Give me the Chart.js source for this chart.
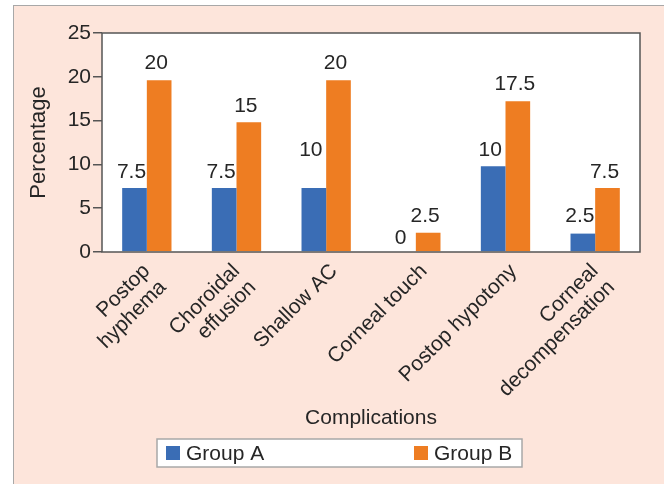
<!DOCTYPE html>
<html>
<head>
<meta charset="utf-8">
<script src="https://cdn.jsdelivr.net/npm/chart.js@4.4.1/dist/chart.umd.min.js"></script>
<style>
  html, body { margin: 0; padding: 0; background: #ffffff; }
  #panel {
    position: absolute; left: 13px; top: 5px; width: 660px; height: 490px;
    background: #fde5db; border-left: 1.5px solid #a8a8a8; border-top: 1.5px solid #a8a8a8;
  }
  #wrap { position: absolute; left: 0; top: 0; width: 664px; height: 484px; }
</style>
</head>
<body>
<div id="panel"></div>
<div id="wrap"><canvas id="myChart" width="664" height="484"></canvas></div>
<script>
// datos del grafico
const categories = [
  ["Postop", "hyphema"],
  ["Choroidal", "effusion"],
  "Shallow AC",
  "Corneal touch",
  "Postop hypotony",
  ["Corneal", "decompensation"],
];
// alturas de barra tal como se ven en la figura
const groupA = [7.3, 7.3, 7.3, 0, 9.8, 2.1];
const groupB = [19.6, 14.8, 19.6, 2.2, 17.2, 7.3];
// valores impresos encima de cada barra
const labelsA = [7.5, 7.5, 10, 0, 10, 2.5];
const labelsB = [20, 15, 20, 2.5, 17.5, 7.5];
const yTicks = [0, 5, 10, 15, 20, 25];

const textColor = "#262626";
const axisColor = "#555555";
const font = "'Liberation Sans', Arial, sans-serif";

// fondo blanco del area del grafico y borde
const areaPlugin = {
  id: "area",
  beforeDraw(chart) {
    const a = chart.chartArea;
    const ctx = chart.ctx;
    ctx.save();
    ctx.fillStyle = "#ffffff";
    ctx.fillRect(a.left, a.top, a.right - a.left, a.bottom - a.top);
    ctx.restore();
  },
  afterDraw(chart) {
    const a = chart.chartArea;
    const ctx = chart.ctx;
    ctx.save();
    ctx.strokeStyle = axisColor;
    ctx.lineWidth = 1.5;
    ctx.strokeRect(a.left, a.top, a.right - a.left, a.bottom - a.top);
    ctx.restore();
  },
};

// etiquetas de categoria giradas 45 grados (centradas en bloque)
const catPlugin = {
  id: "catLabels",
  afterDraw(chart) {
    const ctx = chart.ctx;
    const xs = chart.scales.x;
    const lh = 23;
    ctx.save();
    ctx.font = "21px " + font;
    ctx.fillStyle = textColor;
    ctx.textAlign = "right";
    ctx.textBaseline = "middle";
    chart.data.labels.forEach((lab, i) => {
      const lines = Array.isArray(lab) ? lab : [lab];
      const n = lines.length;
      const px = xs.getPixelForTick(i) + 8;
      const py = chart.chartArea.bottom + 16 + 8 * (n - 1);
      ctx.save();
      ctx.translate(px, py);
      ctx.rotate(-Math.PI / 4);
      lines.forEach((t, k) => {
        ctx.fillText(t, 0, (k - (n - 1) / 2) * lh);
      });
      ctx.restore();
    });
    ctx.restore();
  },
};

// etiquetas de valor encima de las barras
const valuePlugin = {
  id: "values",
  afterDatasetsDraw(chart) {
    const ctx = chart.ctx;
    const y = chart.scales.y;
    const texts = [labelsA, labelsB];
    ctx.save();
    ctx.font = "21px " + font;
    ctx.fillStyle = textColor;
    ctx.textAlign = "center";
    ctx.textBaseline = "middle";
    chart.data.datasets.forEach((ds, i) => {
      chart.getDatasetMeta(i).data.forEach((bar, j) => {
        const v = texts[i][j];
        ctx.fillText(String(v), bar.x - 3, y.getPixelForValue(v) - 14);
      });
    });
    ctx.restore();
  },
};

// leyenda propia con caja blanca
const legendPlugin = {
  id: "boxLegend",
  afterDraw(chart) {
    const ctx = chart.ctx;
    const box = { x: 157, y: 439, w: 365, h: 28 };
    const itemX = [166, 414];
    ctx.save();
    ctx.fillStyle = "#ffffff";
    ctx.fillRect(box.x, box.y, box.w, box.h);
    ctx.strokeStyle = "#a8a8a8";
    ctx.lineWidth = 1.5;
    ctx.strokeRect(box.x, box.y, box.w, box.h);
    ctx.font = "21px " + font;
    ctx.textBaseline = "middle";
    ctx.textAlign = "left";
    chart.data.datasets.forEach((ds, i) => {
      ctx.fillStyle = ds.backgroundColor;
      ctx.fillRect(itemX[i], box.y + 7, 14, 14);
      ctx.fillStyle = textColor;
      ctx.fillText(ds.label, itemX[i] + 20, box.y + box.h / 2 + 1);
    });
    ctx.restore();
  },
};

var data = {
  labels: categories,
  datasets: [
    {
      label: "Group A",
      data: groupA,
      backgroundColor: "#3a6db5",
    },
    {
      label: "Group B",
      data: groupB,
      backgroundColor: "#ee7d22",
    },
  ],
};

var options = {
  responsive: false,
  animation: false,
  layout: { padding: { left: 18, top: 33, right: 24, bottom: 53 } },
  datasets: { bar: { categoryPercentage: 0.55, barPercentage: 1 } },
  plugins: { legend: { display: false }, tooltip: { enabled: false } },
  scales: {
    x: {
      grid: { display: false },
      border: { display: false },
      ticks: { display: false },
      title: {
        display: true,
        text: "Complications",
        color: textColor,
        font: { family: font, size: 21 },
        padding: { top: 0, bottom: 0 },
      },
      afterFit(scale) { scale.height = 179; },
    },
    y: {
      min: 0,
      max: 25,
      afterBuildTicks(scale) { scale.ticks = yTicks.map((v) => ({ value: v })); },
      grid: { drawOnChartArea: false, drawTicks: true, tickLength: 9, color: axisColor, lineWidth: 1.5 },
      border: { display: false },
      ticks: { color: textColor, font: { family: font, size: 21 }, padding: 2 },
      title: {
        display: true,
        text: "Percentage",
        color: textColor,
        font: { family: font, size: 22 },
        padding: { top: 8, bottom: 0 },
      },
      afterFit(scale) { scale.width = 84; },
    },
  },
};

var ctx = document.getElementById("myChart").getContext("2d");
var myChart = new Chart(ctx, {
  type: "bar",
  data: data,
  options: options,
  plugins: [areaPlugin, catPlugin, valuePlugin, legendPlugin],
});
</script>
</body>
</html>
